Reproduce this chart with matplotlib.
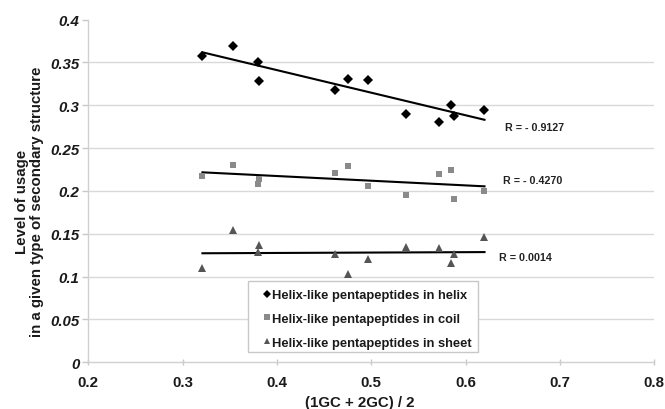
import numpy as np
import matplotlib
matplotlib.use("Agg")
import matplotlib.pyplot as plt
from matplotlib.lines import Line2D
from matplotlib.patches import Rectangle

plt.rcParams['font.family'] = ['Liberation Sans', 'DejaVu Sans']

# data
gc_x = [0.321, 0.353, 0.380, 0.381, 0.462, 0.475, 0.496, 0.537, 0.572, 0.584, 0.588, 0.620]
helix = [0.358, 0.369, 0.351, 0.328, 0.318, 0.331, 0.329, 0.290, 0.280, 0.300, 0.288, 0.295]
coil = [0.218, 0.230, 0.208, 0.214, 0.221, 0.229, 0.206, 0.195, 0.220, 0.224, 0.191, 0.200]
sheet = [0.110, 0.154, 0.129, 0.137, 0.126, 0.103, 0.121, 0.135, 0.133, 0.116, 0.126, 0.146]
series_names = ["Helix-like pentapeptides in helix",
                "Helix-like pentapeptides in coil",
                "Helix-like pentapeptides in sheet"]
r_labels = ["R = - 0.9127", "R = - 0.4270", "R = 0.0014"]
x_ticks = [0.2, 0.3, 0.4, 0.5, 0.6, 0.7, 0.8]
y_ticks = [0, 0.05, 0.1, 0.15, 0.2, 0.25, 0.3, 0.35, 0.4]

W, H = 665, 410
fig = plt.figure(figsize=(W/100, H/100), dpi=100)
ax = fig.add_axes([88.3/W, 1-363.3/H, (654.3-88.3)/W, (363.3-20.6)/H])

styles = [
    dict(marker='D', color='black', ms=4.8),
    dict(marker='s', color='#8a8a8a', ms=4.6),
    dict(marker='^', color='#555555', ms=5.4),
]
handles = []
for ys, st, name in zip([helix, coil, sheet], styles, series_names):
    ax.plot(gc_x, ys, linestyle='none', marker=st['marker'], color=st['color'],
            markersize=st['ms'], markeredgewidth=0, zorder=3)
    k, b = np.polyfit(gc_x, ys, 1)
    xs = np.array([min(gc_x), max(gc_x)])
    ax.plot(xs, k*xs + b, color='black', lw=1.5, zorder=2)
    handles.append(Line2D([], [], linestyle='none', marker=st['marker'], color=st['color'],
                          markersize=st['ms']*0.8, markeredgewidth=0, label=name))

r_pos = [(0.6417, 0.2749), (0.6393, 0.2131), (0.6357, 0.1232)]
for (tx, ty), lab in zip(r_pos, r_labels):
    ax.text(tx, ty, lab, fontsize=7.7, fontweight='bold', color='#222222',
            ha='left', va='center')

FS = 10.8
ax.set_xlim(0.2, 0.8)
ax.set_ylim(0, 0.4)
ax.set_xticks(x_ticks)
ax.set_yticks(y_ticks)
ax.set_xticklabels([f"{v:g}" for v in x_ticks], fontsize=FS, fontweight='bold')
ax.set_yticklabels([f"{v:g}" for v in y_ticks], fontsize=FS, fontweight='bold', style='italic')
for yv in y_ticks[1:-1]:
    ax.axhline(yv, color='#d9d9d9', lw=1.0, zorder=0)

for s in ['top', 'right']:
    ax.spines[s].set_visible(False)
for s in ['left', 'bottom']:
    ax.spines[s].set_color('#d0d0d0')
    ax.spines[s].set_linewidth(1.0)
ax.tick_params(axis='both', colors='#c8c8c8', labelcolor='#1a1a1a', length=4, width=1.0)
ax.tick_params(axis='x', direction='inout', pad=7)
ax.tick_params(axis='y', direction='out', pad=2.5)

ax.set_xlabel("(1GC + 2GC) / 2", fontsize=FS, fontweight='bold', color='#1a1a1a')
ax.xaxis.set_label_coords((360-88.3)/566, (363.3-396)/342.7)
ax.set_ylabel("Level of usage\nin a given type of secondary structure", fontsize=FS,
              fontweight='bold', color='#1a1a1a', linespacing=1.1)
ax.yaxis.set_label_coords((44-88.3)/566, (363.3-202)/342.7)

# legend box
box = Rectangle((248/W, 1-352.7/H), (478-248)/W, (352.7-281.7)/H, transform=fig.transFigure,
                facecolor='white', edgecolor='#c8c8c8', linewidth=1.0, zorder=4)
fig.patches.append(box)
leg = fig.legend(handles=handles, loc='upper left', bbox_to_anchor=(263.3/W, 1-290.0/H),
                 bbox_transform=fig.transFigure, borderaxespad=0, frameon=False,
                 prop=dict(weight='bold', size=9.3), handlelength=0.6, handletextpad=0.05,
                 labelspacing=0.92, borderpad=0.0)
leg.set_zorder(6)
for t in leg.get_texts():
    t.set_color('#1a1a1a')

fig.savefig("out.png", dpi=100)
